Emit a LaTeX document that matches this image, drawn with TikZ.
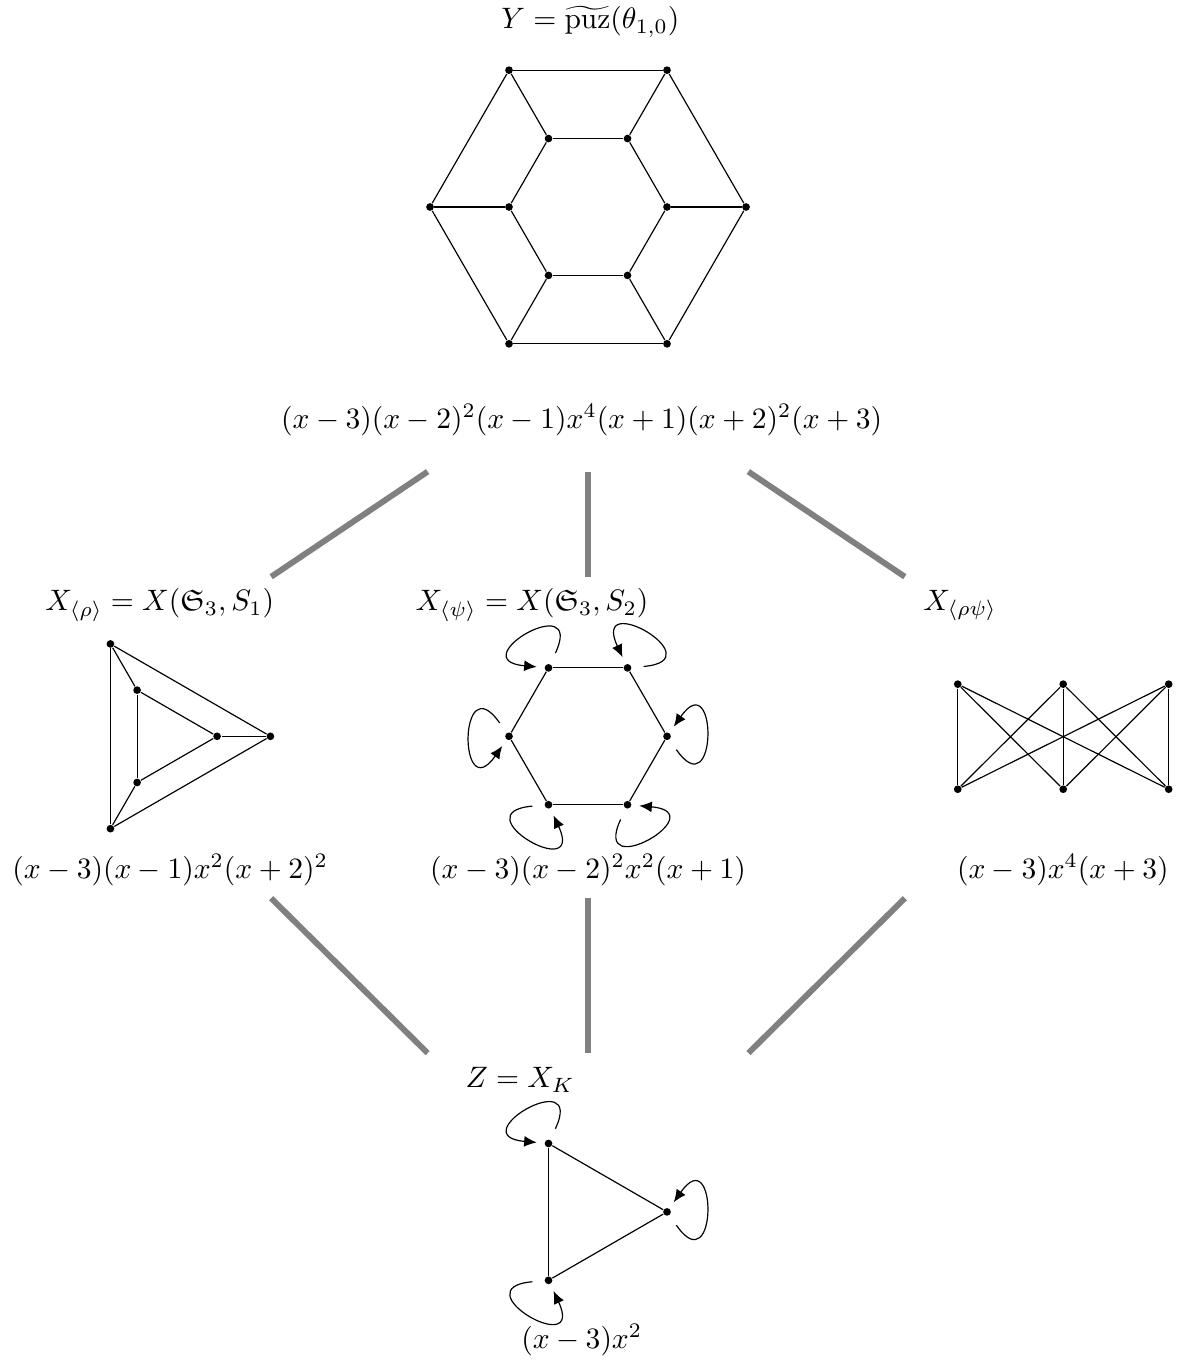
\documentclass[tikz,border=0pt]{standalone}
\usepackage{amsmath}
\usepackage{amssymb}
\usetikzlibrary{positioning, arrows.meta, calc}

\tikzset{
  vtx/.style={circle, fill, inner sep=0pt, minimum size=2.6pt},
  gline/.style={gray, line width=2pt},
  selfloop/.style={-{Latex[length=1.5mm, width=1.3mm]}, shorten >=2.5pt, shorten <=4pt, min distance=10mm, looseness=8}
}

\begin{document}
\begin{tikzpicture}[x=0.94cm, y=0.94cm]
\useasboundingbox (-7.443,2.620) rectangle (7.481,-14.620);

% top graph
\node (ytitle) at (0.03,2.34) {$Y=\widetilde{\mathrm{puz}}(\theta_{1,0})$};
\foreach \i in {1,...,6} {
  \node[vtx] (o\i) at ({60*(\i-1)}:2) {};
  \node[vtx] (n\i) at ({60*(\i-1)}:1) {};
}
\foreach \i [remember=\i as \j (initially 6)] in {1,...,6} {
  \draw (o\j) -- (o\i);
  \draw (n\j) -- (n\i);
  \draw (o\i) -- (n\i);
}
\node (ypoly) at (-0.08,-2.70) {$(x-3)(x-2)^2(x-1)x^4(x+1)(x+2)^2(x+3)$};

% upper connectors
\coordinate (ua1) at (-2.03,-3.35);
\coordinate (ub1) at (-4.01,-4.68);
\coordinate (ua2) at (0,-3.35);
\coordinate (ub2) at (0,-4.68);
\coordinate (ua3) at (2.03,-3.35);
\coordinate (ub3) at (4.01,-4.68);
\foreach \k in {1,2,3}
  \draw[gline] (ua\k) -- (ub\k);

% left: X_rho
\node (rtitle) at (-5.42,-5.04) {$X_{\langle\rho\rangle}=X(\mathfrak{S}_3,S_1)$};
\foreach \i/\a in {1/120, 2/0, 3/240} {
  \node[vtx] (ro\i) at ($(-5.37,-6.70)+(\a:1.35)$) {};
  \node[vtx] (ri\i) at ($(-5.37,-6.70)+(\a:0.675)$) {};
}
\foreach \i [remember=\i as \j (initially 3)] in {1,2,3} {
  \draw (ro\j) -- (ro\i);
  \draw (ri\j) -- (ri\i);
  \draw (ro\i) -- (ri\i);
}
\node (rpoly) at (-5.29,-8.39) {$(x-3)(x-1)x^2(x+2)^2$};

% middle: X_psi
\node (ptitle) at (-0.71,-5.04) {$X_{\langle\psi\rangle}=X(\mathfrak{S}_3,S_2)$};
\foreach \i in {1,...,6}
  \node[vtx] (h\i) at ($(0,-6.70)+({60*(\i-1)}:1)$) {};
\foreach \i [remember=\i as \j (initially 6)] in {1,...,6}
  \draw (h\j) -- (h\i);
\foreach \i [evaluate=\i as \lo using int(60*(\i-1)-55),
             evaluate=\i as \li using int(60*(\i-1)+55)] in {1,...,6}
  \draw[selfloop] (h\i) to[out=\lo, in=\li] (h\i);
\node (ppoly) at (0,-8.39) {$(x-3)(x-2)^2x^2(x+1)$};

% right: X_rho psi
\node (rptitle) at (4.71,-5.04) {$X_{\langle\rho\psi\rangle}$};
\foreach \i/\x in {1/4.68, 2/6.015, 3/7.35} {
  \node[vtx] (t\i) at (\x,-6.04) {};
  \node[vtx] (b\i) at (\x,-7.37) {};
}
\foreach \i in {1,2,3}
  \foreach \j in {1,2,3}
    \draw (t\i) -- (b\j);
\node (rppoly) at (6.01,-8.39) {$(x-3)x^4(x+3)$};

% lower connectors
\coordinate (la1) at (-4.01,-8.75);
\coordinate (lb1) at (-2.03,-10.71);
\coordinate (la2) at (0,-8.75);
\coordinate (lb2) at (0,-10.71);
\coordinate (la3) at (4.01,-8.75);
\coordinate (lb3) at (2.03,-10.71);
\foreach \k in {1,2,3}
  \draw[gline] (la\k) -- (lb\k);

% bottom: Z
\node (ztitle) at (-0.86,-11.05) {$Z=X_K$};
\foreach \i/\a in {1/120, 2/0, 3/240}
  \node[vtx] (z\i) at ($(0,-12.72)+(\a:1)$) {};
\foreach \i [remember=\i as \j (initially 3)] in {1,2,3}
  \draw (z\j) -- (z\i);
\foreach \i/\lo/\li in {1/65/175, 2/-55/55, 3/185/295}
  \draw[selfloop] (z\i) to[out=\lo, in=\li] (z\i);
\node (zpoly) at (-0.08,-14.34) {$(x-3)x^2$};

\end{tikzpicture}
\end{document}
